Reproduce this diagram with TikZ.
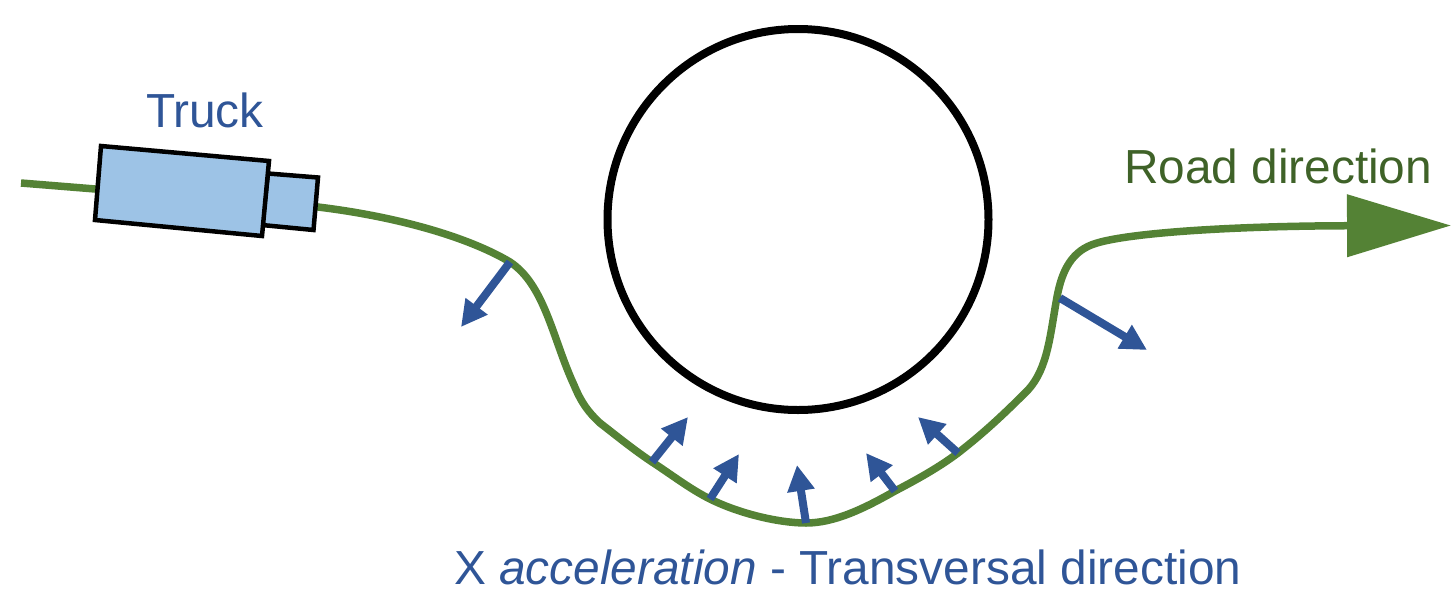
\documentclass[tikz,border=0pt]{standalone}
\usepackage{fontspec}
\setmainfont{Liberation Sans}
\usetikzlibrary{arrows.meta}
\definecolor{roadgreen}{HTML}{548235}
\definecolor{roadtext}{HTML}{3F6228}
\definecolor{accblue}{HTML}{2F5597}
\definecolor{truckfill}{HTML}{9DC3E6}
\tikzset{
  road/.style={draw=roadgreen,line width=7.5pt,line join=round},
  accel/.style={draw=accblue,line width=8pt,-{Triangle[length=26pt,width=26pt]}},
  truckpart/.style={draw=black,fill=truckfill,line width=4.5pt,line join=miter},
  label/.style={anchor=base west,inner sep=0pt,outer sep=0pt,font=\fontsize{47.8}{50}\selectfont},
  obstacle/.style={draw=black,line width=8pt,circle,inner sep=0pt,minimum size=381pt}
}
\begin{document}
\begin{tikzpicture}[x=1pt,y=-1pt]
\useasboundingbox (0,0) rectangle (1451,592);
% road
\coordinate (r0) at (21,183);
\coordinate (r1) at (318,207);
\coordinate (a1) at (510,262);
\coordinate (r2) at (574,385);
\coordinate (r3) at (600,423);
\coordinate (a2) at (652,462);
\coordinate (a3) at (710,499);
\coordinate (a4) at (806,523);
\coordinate (a5) at (895,491);
\coordinate (a6) at (958,453);
\coordinate (r4) at (1028,390);
\coordinate (a7) at (1057,297);
\coordinate (s7) at (1060,298);
\coordinate (r5) at (1097,243);
\coordinate (r6) at (1451,225.5);
\draw[road,-{Triangle[length=104pt,width=61pt]}] (r0) -- (r1)
  .. controls (400,217) and (470,238) .. (a1)
  .. controls (545,285) and (553,340) .. (r2)
  .. controls (581,402) and (588,412) .. (r3)
  .. controls (618,437) and (634,450) .. (a2)
  .. controls (672,475) and (690,489) .. (a3)
  .. controls (740,514) and (780,523) .. (a4)
  .. controls (835,523) and (865,508) .. (a5)
  .. controls (916,480) and (938,468) .. (a6)
  .. controls (985,432) and (1005,413) .. (r4)
  .. controls (1048,368) and (1050,335) .. (a7)
  .. controls (1062,270) and (1072,250) .. (r5)
  .. controls (1130,233) and (1230,226) .. (r6);
% truck
\draw[truckpart] (268,173.5) -- (318,177.5) -- (313.5,230) -- (262,225) -- cycle;
\draw[truckpart] (101,146) -- (269,161) -- (262,236) -- (95,220) -- cycle;
% obstacle
\node[obstacle] (circ) at (798,219.5) {};
% acceleration arrows
\coordinate (e1) at (461,327);
\coordinate (e2) at (688,417);
\coordinate (e3) at (739,454);
\coordinate (e4) at (797,465);
\coordinate (e5) at (866,453);
\coordinate (e6) at (918,417);
\coordinate (e7) at (1147,350);
\foreach \s/\t in {a1/e1,a2/e2,a3/e3,a4/e4,a5/e5,a6/e6,s7/e7}
  \draw[accel] (\s) -- (\t);
% labels
\node[label,text=accblue] (truck) at (146,127) {Truck};
\node[label,text=roadtext] (roadlabel) at (1124,183) {Road direction};
\node[label,text=accblue] (acc) at (454,584) {X \textit{acceleration} - Transversal direction};
\end{tikzpicture}
\end{document}
